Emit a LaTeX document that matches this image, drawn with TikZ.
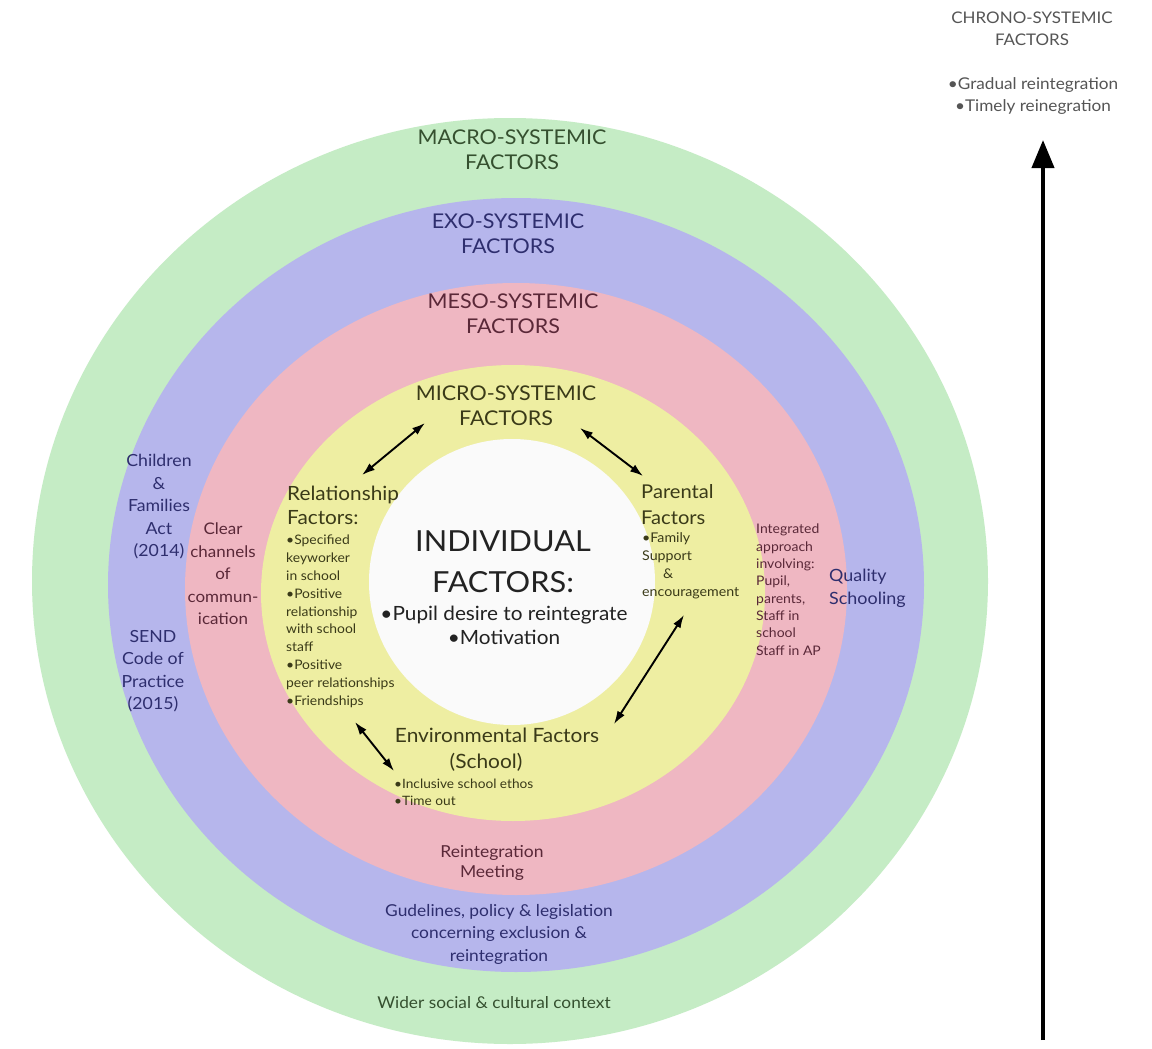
\documentclass[tikz,border=0pt]{standalone}
\usepackage{fontspec}
\setmainfont{Lato}[FakeStretch=1.06]
\usetikzlibrary{arrows.meta}
\definecolor{greenring}{HTML}{C5ECC5}
\definecolor{bluering}{HTML}{B6B6EC}
\definecolor{pinkring}{HTML}{EFB7C2}
\definecolor{yellowring}{HTML}{EEEEA2}
\definecolor{whitecore}{HTML}{FAFAFA}
\definecolor{macroTxt}{HTML}{35502F}
\definecolor{exoTxt}{HTML}{2E2E6E}
\definecolor{mesoTxt}{HTML}{5A2838}
\definecolor{microTxt}{HTML}{3A3A18}
\definecolor{indTxt}{HTML}{222222}
\definecolor{chronoTxt}{HTML}{555555}
\begin{document}
\begin{tikzpicture}[x=1pt,y=-1pt,
  lbl/.style={inner sep=0pt, align=center},
  lbll/.style={inner sep=0pt, align=left, anchor=north west},
  dbl/.style={{Latex[length=13pt,width=8.5pt]}-{Latex[length=13pt,width=8.5pt]}, line width=1.9pt, black}
]
\useasboundingbox (0,0) rectangle (1152,1049);
\fill[white] (0,0) rectangle (1152,1049);
% rings
\fill[greenring] (510,581) ellipse [x radius=478, y radius=463];
\fill[bluering] (516,585) ellipse [x radius=408, y radius=387];
\fill[pinkring] (516,589) ellipse [x radius=331, y radius=306];
\fill[yellowring] (513,593) ellipse [x radius=252, y radius=228];
\fill[whitecore] (512,582) circle [radius=143];

% chrono
\node[lbl, text=chronoTxt, font=\fontsize{16}{22}\selectfont] (chrono) at (1032,29) {CHRONO-SYSTEMIC\\FACTORS};
\node[lbl, text=chronoTxt, font=\fontsize{16.2}{22}\selectfont] (chronoList) at (1033,96) {•Gradual reintegration\\•Timely reinegration};
\coordinate (tbot) at (1043,1040);
\coordinate (ttop) at (1043,140);
\draw[line width=4pt, -{Triangle[length=28pt,width=22pt]}] (tbot) -- (ttop);

% macro
\node[lbl, text=macroTxt, font=\fontsize{20.3}{25}\selectfont] (macro) at (512,150) {MACRO-SYSTEMIC\\FACTORS};
\node[lbl, text=macroTxt, font=\fontsize{16.3}{22}\selectfont] (wider) at (494,1003) {Wider social \& cultural context};
% exo
\node[lbl, text=exoTxt, font=\fontsize{20.3}{25}\selectfont] (exo) at (508,234) {EXO-SYSTEMIC\\FACTORS};
\node[lbl, text=exoTxt, font=\fontsize{16.7}{22.5}\selectfont] (children) at (159,507) {Children\\\&\\Families\\Act\\(2014)};
\node[lbl, text=exoTxt, font=\fontsize{16.7}{22.5}\selectfont] (send) at (153,671) {SEND\\Code of\\Practice\\(2015)};
\node[lbll, text=exoTxt, font=\fontsize{16.9}{23}\selectfont] (quality) at (829,569) {Quality\\Schooling};
\node[lbl, text=exoTxt, font=\fontsize{16.4}{22.5}\selectfont] (guide) at (499,934) {Gudelines, policy \& legislation\\concerning exclusion \&\\reintegration};
% meso
\node[lbl, text=mesoTxt, font=\fontsize{20.3}{25}\selectfont] (meso) at (513,314) {MESO-SYSTEMIC\\FACTORS};
\node[lbl, text=mesoTxt, font=\fontsize{16}{22.5}\selectfont] (clear) at (223,574) {Clear\\channels\\of\\commun-\\ication};
\node[lbll, text=mesoTxt, font=\fontsize{13.2}{17.3}\selectfont] (integ) at (756,524) {Integrated\\approach\\involving:\\Pupil,\\parents,\\Staff in\\school\\Staff in AP};
\node[lbl, text=mesoTxt, font=\fontsize{16.5}{20}\selectfont] (meeting) at (492,863) {Reintegration\\Meeting};
% micro
\node[lbl, text=microTxt, font=\fontsize{20.3}{25}\selectfont] (micro) at (506,406) {MICRO-SYSTEMIC\\FACTORS};
\node[lbll, text=microTxt, font=\fontsize{19.6}{24}\selectfont] (relT) at (287,486) {Relationship\\Factors:};
\node[lbll, text=microTxt, font=\fontsize{13.1}{17.8}\selectfont] (relL) at (286,535) {•Specified\\keyworker\\in school\\•Positive\\relationship\\with school\\staff\\•Positive\\peer relationships\\•Friendships};
\node[lbll, text=microTxt, font=\fontsize{19}{26}\selectfont] (parT) at (641,484) {Parental\\Factors};
\node[lbll, text=microTxt, font=\fontsize{13.4}{18}\selectfont] (parL) at (642,532) {•Family\\Support\\\hspace*{21pt}\&\\encouragement};
\node[lbl, text=microTxt, font=\fontsize{19.7}{26}\selectfont] (envT) at (497,750) {Environmental Factors\\\hspace*{-22pt}(School)};
\node[lbll, text=microTxt, font=\fontsize{12.9}{17}\selectfont] (envL) at (394,779) {•Inclusive school ethos\\•Time out};
% individual
\node[lbl, text=indTxt, font=\fontsize{29}{41}\selectfont] (ind) at (503,562) {INDIVIDUAL\\FACTORS:};
\node[lbl, text=indTxt, font=\fontsize{19.6}{24}\selectfont] (indL) at (504,625) {•Pupil desire to reintegrate\\•Motivation};

% double arrows
\coordinate (a1s) at (362,475);
\coordinate (a1e) at (425,423);
\coordinate (a2s) at (580,428);
\coordinate (a2e) at (643,476);
\coordinate (a3s) at (684,615);
\coordinate (a3e) at (614,724);
\coordinate (a4s) at (355,722);
\coordinate (a4e) at (394,771);
\draw[dbl] (a1s) -- (a1e);
\draw[dbl] (a2s) -- (a2e);
\draw[dbl] (a3s) -- (a3e);
\draw[dbl] (a4s) -- (a4e);
\end{tikzpicture}
\end{document}
